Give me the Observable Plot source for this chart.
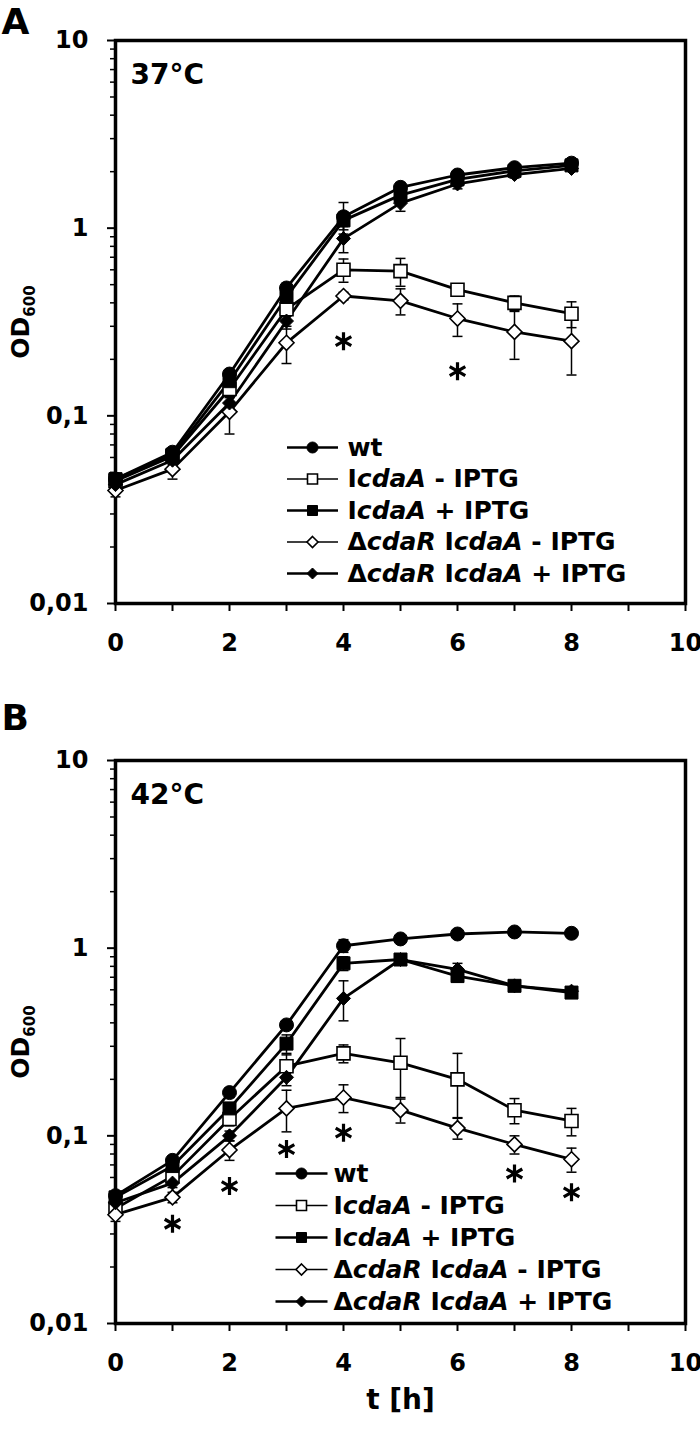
<!DOCTYPE html>
<html><head><meta charset="utf-8">
<script src="https://cdn.jsdelivr.net/npm/d3@7"></script>
<script src="https://cdn.jsdelivr.net/npm/@observablehq/plot@0.6"></script>
<style>
body{margin:0;background:#fff}
#chart svg{display:block}
</style>
</head><body><div id="chart"></div>
<script>
// ---------- data ----------
const times = [0, 1, 2, 3, 4, 5, 6, 7, 8];
const seriesNames = ["wt", "IcdaA - IPTG", "IcdaA + IPTG", "ΔcdaR IcdaA - IPTG", "ΔcdaR IcdaA + IPTG"];

// Panel A, 37°C
const A_wt        = [0.046, 0.064, 0.167, 0.48, 1.15, 1.65, 1.92, 2.10, 2.22];
const A_wt_sd     = [0.000, 0.003, 0.008, 0.03, 0.22, 0.10, 0.08, 0.06, 0.05];
const A_iMinus    = [0.045, 0.061, 0.139, 0.37, 0.60, 0.59, 0.47, 0.40, 0.35];
const A_iMinus_sd = [0.002, 0.004, 0.012, 0.03, 0.085, 0.10, 0.02, 0.035, 0.055];
const A_iPlus     = [0.046, 0.062, 0.153, 0.43, 1.10, 1.50, 1.82, 2.02, 2.16];
const A_iPlus_sd  = [0.002, 0.003, 0.010, 0.03, 0.12, 0.15, 0.10, 0.08, 0.06];
const A_dMinus    = [0.040, 0.052, 0.105, 0.245, 0.435, 0.41, 0.33, 0.28, 0.25];
const A_dMinus_sd = [0.003, 0.006, 0.025, 0.055, 0.02, 0.065, 0.065, 0.08, 0.085];
const A_dPlus     = [0.043, 0.058, 0.117, 0.32, 0.88, 1.36, 1.72, 1.93, 2.08];
const A_dPlus_sd  = [0.002, 0.003, 0.008, 0.03, 0.14, 0.13, 0.10, 0.08, 0.06];
const A_starT  = [4, 6];
const A_starOD = [0.25, 0.173];

// Panel B, 42°C
const B_wt        = [0.048, 0.074, 0.17, 0.39, 1.03, 1.12, 1.19, 1.22, 1.20];
const B_wt_sd     = [0.002, 0.004, 0.01, 0.02, 0.08, 0.03, 0.03, 0.03, 0.03];
const B_iMinus    = [0.041, 0.061, 0.123, 0.235, 0.275, 0.245, 0.20, 0.137, 0.12];
const B_iMinus_sd = [0.002, 0.004, 0.010, 0.035, 0.030, 0.085, 0.075, 0.021, 0.02];
const B_iPlus     = [0.047, 0.069, 0.14, 0.31, 0.83, 0.87, 0.71, 0.63, 0.58];
const B_iPlus_sd  = [0.002, 0.005, 0.01, 0.035, 0.07, 0.05, 0.05, 0.04, 0.02];
const B_dMinus    = [0.038, 0.047, 0.084, 0.14, 0.16, 0.137, 0.11, 0.09, 0.075];
const B_dMinus_sd = [0.003, 0.003, 0.010, 0.035, 0.027, 0.02, 0.014, 0.01, 0.011];
const B_dPlus     = [0.044, 0.056, 0.10, 0.205, 0.54, 0.87, 0.77, 0.63, 0.59];
const B_dPlus_sd  = [0.002, 0.003, 0.006, 0.02, 0.13, 0.04, 0.06, 0.04, 0.03];
const B_starT  = [1, 2, 3, 4, 7, 8];
const B_starOD = [0.034, 0.054, 0.085, 0.104, 0.063, 0.05];

// axes
const yTickValues = [0.01, 0.1, 1, 10];
const yTickLabels = ["0,01", "0,1", "1", "10"];
const xTickValues = [0, 1, 2, 3, 4, 5, 6, 7, 8, 9, 10];
const xTickLabels = ["0", "", "2", "", "4", "", "6", "", "8", "", "10"];

// rich text (italic / subscript parts)
const rich = new Map([
  ["IcdaA - IPTG", [["I", ""], ["cdaA", "i"], [" - IPTG", ""]]],
  ["IcdaA + IPTG", [["I", ""], ["cdaA", "i"], [" + IPTG", ""]]],
  ["ΔcdaR IcdaA - IPTG", [["Δ", ""], ["cdaR", "i"], [" I", ""], ["cdaA", "i"], [" - IPTG", ""]]],
  ["ΔcdaR IcdaA + IPTG", [["Δ", ""], ["cdaR", "i"], [" I", ""], ["cdaA", "i"], [" + IPTG", ""]]],
  ["OD600", [["OD", ""], ["600", "sub"]]]
]);

// ---------- symbols ----------
const circleSym = s => ({draw(c) { c.moveTo(s, 0); c.arc(0, 0, s, 0, 2 * Math.PI); c.closePath(); }});
const squareSym = s => ({draw(c) { c.moveTo(-s, -s); c.lineTo(s, -s); c.lineTo(s, s); c.lineTo(-s, s); c.closePath(); }});
const diamondSym = s => ({draw(c) { c.moveTo(0, -s); c.lineTo(s, 0); c.lineTo(0, s); c.lineTo(-s, 0); c.closePath(); }});
const hlineSym = s => ({draw(c) { c.moveTo(-s, 0); c.lineTo(s, 0); }});
const starSym = s => ({draw(c) {
  for (const a of [90, 30, 150]) {
    const r = a * Math.PI / 180;
    c.moveTo(-s * Math.cos(r), -s * Math.sin(r));
    c.lineTo(s * Math.cos(r), s * Math.sin(r));
  }
}});

const seriesStyle = [
  {sym: circleSym, size: 7, legSize: 5.5, fill: "black", sw: 1, lineW: 2.6},
  {sym: squareSym, size: 6.5, legSize: 5, fill: "white", sw: 1.6, lineW: 1.6},
  {sym: squareSym, size: 6.5, legSize: 5, fill: "black", sw: 1, lineW: 2.6},
  {sym: diamondSym, size: 7.5, legSize: 5.5, fill: "white", sw: 1.6, lineW: 1.6},
  {sym: diamondSym, size: 7, legSize: 5.5, fill: "black", sw: 1, lineW: 2.6}
];

const minorY = [];
for (const d of [0.01, 0.1, 1]) for (let k = 2; k <= 9; k++) minorY.push(+(d * k).toPrecision(3));

const FONT = "'DejaVu Sans', sans-serif";

function panel(cfg) {
  const rows = [];
  cfg.series.forEach(([od, sd], i) => {
    times.forEach((t, j) => rows.push({series: seriesNames[i], idx: i, t, od: od[j], sd: sd[j]}));
  });
  const errRows = rows.filter(d => d.sd > 0);
  const stars = cfg.starT.map((t, i) => ({t, od: cfg.starOD[i]}));

  const marks = [
    Plot.axisY({ticks: minorY, tickFormat: () => "", tickSize: 5, strokeWidth: 1.5, label: null}),
    Plot.axisY({ticks: yTickValues, tickFormat: d => yTickLabels[yTickValues.indexOf(d)], tickSize: 8, tickPadding: 19,
      fontSize: 24, fontWeight: "bold", strokeWidth: 2, label: null}),
    Plot.axisX({ticks: xTickValues, tickFormat: d => xTickLabels[xTickValues.indexOf(d)], tickSize: 8, tickPadding: 22,
      fontSize: 24, fontWeight: "bold", strokeWidth: 2, label: null}),
    Plot.frame({stroke: "black", strokeWidth: 3.5}),
    Plot.line(rows, {x: "t", y: "od", z: "series", stroke: "black", strokeWidth: 2.8}),
    Plot.ruleX(errRows, {x: "t", y1: d => d.od - d.sd, y2: d => d.od + d.sd, stroke: "black", strokeWidth: 1.5}),
    Plot.dot(errRows, {x: "t", y: d => d.od + d.sd, symbol: hlineSym(5), fill: "none", stroke: "black", strokeWidth: 1.5}),
    Plot.dot(errRows, {x: "t", y: d => d.od - d.sd, symbol: hlineSym(5), fill: "none", stroke: "black", strokeWidth: 1.5})
  ];
  seriesStyle.forEach((st, i) => {
    marks.push(Plot.dot(rows.filter(d => d.idx === i), {x: "t", y: "od", symbol: st.sym(st.size), fill: st.fill, stroke: "black", strokeWidth: st.sw}));
  });
  marks.push(Plot.dot(stars, {x: "t", y: "od", symbol: starSym(9), fill: "none", stroke: "black", strokeWidth: 3.2}));

  // legend
  seriesStyle.forEach((st, i) => {
    const dy = cfg.legTop + i * cfg.legStep;
    marks.push(Plot.dot([0], {frameAnchor: "top-left", dx: cfg.legLineMid, dy, symbol: hlineSym(cfg.legLineHalf), fill: "none", stroke: "black", strokeWidth: st.lineW}));
    marks.push(Plot.dot([0], {frameAnchor: "top-left", dx: cfg.legLineMid, dy, symbol: st.sym(st.legSize), fill: st.fill, stroke: "black", strokeWidth: st.sw}));
    marks.push(Plot.text([seriesNames[i]], {frameAnchor: "top-left", dx: cfg.legText, dy, text: d => d, textAnchor: "start", lineAnchor: "middle", fontSize: 25, fontWeight: "bold", fill: "black"}));
  });

  // temperature, panel letter, y label
  marks.push(Plot.text([cfg.temp], {frameAnchor: "top-left", dx: 15, dy: 35, text: d => d, textAnchor: "start", lineAnchor: "middle", fontSize: 28, fontWeight: "bold"}));
  marks.push(Plot.text([cfg.letter], {frameAnchor: "top-left", dx: -114, dy: cfg.letterDy, text: d => d, textAnchor: "start", lineAnchor: "middle", fontSize: 36, fontWeight: "bold"}));
  marks.push(Plot.text(["OD600"], {frameAnchor: "left", dx: -95, text: d => d, rotate: -90, textAnchor: "middle", lineAnchor: "middle", fontSize: 25, fontWeight: "bold"}));
  if (cfg.xLabel) marks.push(Plot.text([cfg.xLabel], {frameAnchor: "bottom", dy: 77, text: d => d, textAnchor: "middle", lineAnchor: "middle", fontSize: 28, fontWeight: "bold"}));

  const svg = Plot.plot({
    width: 700, height: cfg.height,
    marginTop: cfg.marginTop, marginBottom: cfg.marginBottom, marginLeft: 115, marginRight: 15,
    style: `font-family: ${FONT}; font-weight: bold; background: white; color: black; overflow: visible;`,
    x: {domain: [0, 10]},
    y: {type: "log", domain: [0.01, 10]},
    marks
  });

  d3.select(svg).selectAll("text").each(function () {
    const segs = rich.get(this.textContent);
    if (!segs) return;
    const el = d3.select(this);
    el.text(null);
    for (const [s, kind] of segs) {
      const ts = el.append("tspan").text(s);
      if (kind === "i") ts.attr("font-style", "italic");
      if (kind === "sub") ts.attr("font-size", 15).attr("dy", "0.45em");
    }
  });
  return svg;
}

const chart = document.getElementById("chart");
chart.append(panel({
  series: [[A_wt, A_wt_sd], [A_iMinus, A_iMinus_sd], [A_iPlus, A_iPlus_sd], [A_dMinus, A_dMinus_sd], [A_dPlus, A_dPlus_sd]],
  starT: A_starT, starOD: A_starOD, temp: "37°C", letter: "A", letterDy: -18,
  height: 680, marginTop: 40, marginBottom: 77,
  legTop: 407, legStep: 31.5, legLineMid: 197, legLineHalf: 25.5, legText: 232
}));
chart.append(panel({
  series: [[B_wt, B_wt_sd], [B_iMinus, B_iMinus_sd], [B_iPlus, B_iPlus_sd], [B_dMinus, B_dMinus_sd], [B_dPlus, B_dPlus_sd]],
  starT: B_starT, starOD: B_starOD, temp: "42°C", letter: "B", letterDy: -42,
  height: 761, marginTop: 80, marginBottom: 118,
  legTop: 413, legStep: 32, legLineMid: 186, legLineHalf: 26, legText: 218,
  xLabel: "t [h]"
}));
</script>
</body></html>
